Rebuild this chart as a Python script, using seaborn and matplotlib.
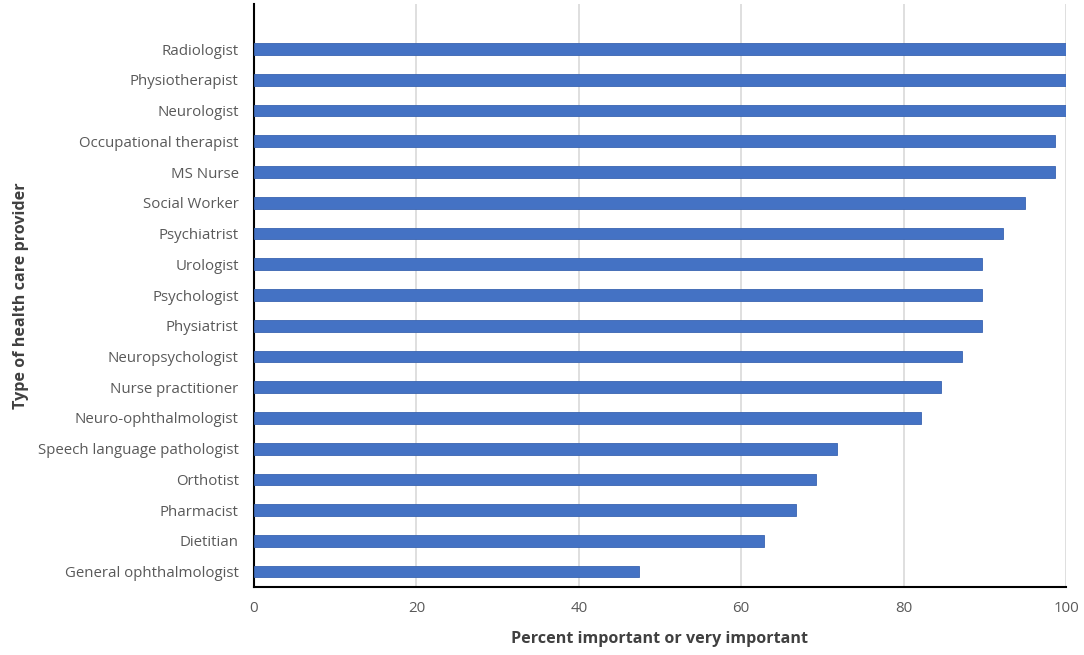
import matplotlib
matplotlib.use("Agg")
import matplotlib.pyplot as plt
import seaborn as sns
import pandas as pd

# Данные: тип специалиста и доля ответов "важно / очень важно"
providers = [
    "Radiologist", "Physiotherapist", "Neurologist", "Occupational therapist",
    "MS Nurse", "Social Worker", "Psychiatrist", "Urologist", "Psychologist",
    "Physiatrist", "Neuropsychologist", "Nurse practitioner",
    "Neuro-ophthalmologist", "Speech language pathologist", "Orthotist",
    "Pharmacist", "Dietitian", "General ophthalmologist",
]
percent = [100, 100, 100, 98.7, 98.7, 94.9, 92.3, 89.7, 89.7, 89.7,
           87.2, 84.6, 82.1, 71.8, 69.2, 66.7, 62.8, 47.4]
x_ticks = [0, 20, 40, 60, 80, 100]

df = pd.DataFrame({"provider": providers, "percent": percent})

sns.set_style("white")
plt.rcParams["font.family"] = ["Open Sans", "DejaVu Sans"]

fig = plt.figure(figsize=(10.84, 6.55), dpi=100)
ax = fig.add_axes([0.2343, 0.1038, 0.7491, 0.8902])

sns.barplot(data=df, x="percent", y="provider", orient="h", order=providers,
            color="#4472C4", saturation=1, width=0.38, ax=ax,
            edgecolor="#3A64B0", linewidth=0.6, zorder=3)

ax.set_xlim(0, 100)
ax.set_ylim(17.5, -1.47)
ax.set_xticks(x_ticks)
ax.xaxis.grid(True, color="#D9D9D9", linewidth=1.2, zorder=0)
ax.set_axisbelow(True)

for side in ["top", "right"]:
    ax.spines[side].set_visible(False)
for side in ["left", "bottom"]:
    ax.spines[side].set_color("black")
    ax.spines[side].set_linewidth(1.5)

ax.tick_params(axis="both", length=0, labelsize=10.8, labelcolor="#595959")
ax.tick_params(axis="y", pad=11)
ax.tick_params(axis="x", pad=10)

ax.set_xlabel("Percent important or very important", fontsize=11.6,
              fontweight="bold", color="#404040", labelpad=11)
ax.set_ylabel("Type of health care provider", fontsize=11.6,
              fontweight="bold", color="#404040")
ax.yaxis.set_label_coords(-0.277, 0.5)  # подпись оси Y ближе к краю, как в оригинале

fig.savefig("out.png", dpi=100)
